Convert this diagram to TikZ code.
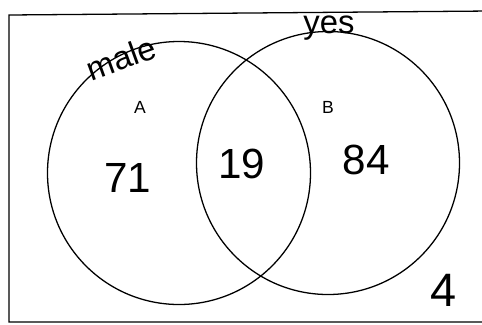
\documentclass[tikz,border=0pt]{standalone}
\usepackage{fontspec}
\setmainfont{Liberation Sans}
\usetikzlibrary{positioning}

\begin{document}
\begin{tikzpicture}[
  x=0.03cm, y=-0.03cm,
  line width=1.1pt,
  setcirc/.style={draw=black, circle, inner sep=0pt, minimum size=263*0.03cm},
  hand/.style={font=\fontsize{36}{36}\selectfont, inner sep=0pt},
  setname/.style={font=\fontsize{28}{28}\selectfont, inner sep=0pt},
  letter/.style={font=\fontsize{15}{15}\selectfont, inner sep=0pt}
]
\useasboundingbox (0,0) rectangle (482,324);
% ----- universe frame (right side runs off the page) -----
\draw (490,11) -- (9,15) -- (9,322) -- (490,322);
% ----- the two sets -----
\node[setcirc] (cA) at (179,173) {};
\node[setcirc] (cB) at (328,163) {};
% ----- set names -----
\node[setname, rotate=20] (male) at (121,58) {male};
\node[setname]            (yes)  at (329,28) {yes};
\node[letter] (lA) at (140,107) {A};
\node[letter] (lB) at (328,107) {B};
% ----- counts -----
\node[hand] (nA)  at (128,178) {71};
\node[hand] (nAB) at (242,164) {19};
\node[hand] (nB)  at (366,160) {84};
\node[hand, font=\fontsize{40}{40}\selectfont] (nU) at (444,290) {4};
\end{tikzpicture}
\end{document}
